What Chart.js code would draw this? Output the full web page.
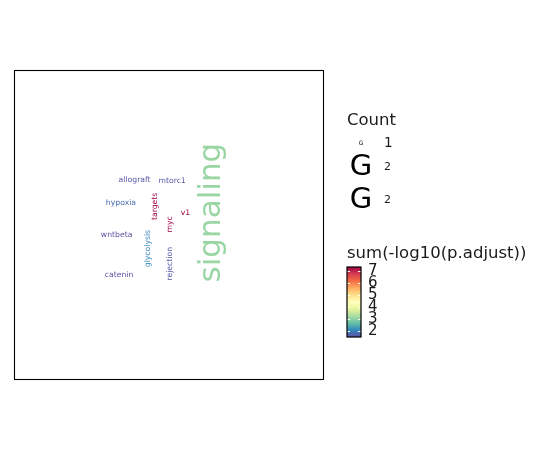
<!DOCTYPE html>
<html>
<head>
<meta charset="utf-8">
<script src="https://cdn.jsdelivr.net/npm/chart.js@4"></script>
<style>
  html, body { margin: 0; padding: 0; background: #ffffff; }
  #wrap { width: 550px; height: 450px; }
</style>
</head>
<body>
<div id="wrap"><canvas id="cloud" width="550" height="450"></canvas></div>
<script>
/* ── Data ──────────────────────────────────────────────────── */
const words  = ['allograft', 'mtorc1', 'hypoxia', 'wntbeta', 'catenin', 'targets', 'myc', 'v1', 'glycolysis', 'rejection', 'signaling'];
const counts = [1, 1, 1, 1, 1, 1, 1, 1, 1, 1, 2];
const scores = [1.6, 1.6, 1.8, 1.5, 1.5, 7.33, 7.33, 7.33, 2.05, 1.6, 3.1];
const angles = [0, 0, 0, 0, 0, 90, 90, 0, 90, 90, 90];
const posX   = [38.9, 51.0, 34.5, 33.1, 33.9, 45.6, 50.2, 55.3, 43.1, 50.2, 63.8];
const posY   = [64.4, 64.2, 57.0, 46.9, 34.0, 56.0, 50.2, 54.0, 42.4, 37.5, 54.0];

const countBreaks  = [1, 2, 2];
const countLabels  = ['1', '2', '2'];
const colourTicks  = [2, 3, 4, 5, 6, 7];

/* ── Theme ─────────────────────────────────────────────────── */
const FONT = "'DejaVu Sans', sans-serif";
const spectral = ['#5E4FA2', '#3288BD', '#66C2A5', '#ABDDA4', '#E6F598', '#FFFFBF',
                  '#FEE08B', '#FDAE61', '#F46D43', '#D53E4F', '#9E0142'];
const cMin = Math.min(...scores);
const cMax = Math.max(...scores);

function hexToRgb(h) {
  const n = parseInt(h.slice(1), 16);
  return [(n >> 16) & 255, (n >> 8) & 255, n & 255];
}

function colourFor(v) {
  const t = Math.max(0, Math.min(1, (v - cMin) / (cMax - cMin)));
  const pos = t * (spectral.length - 1);
  const i = Math.min(spectral.length - 2, Math.floor(pos));
  const f = pos - i;
  const a = hexToRgb(spectral[i]), b = hexToRgb(spectral[i + 1]);
  const c = a.map((x, k) => Math.round(x + (b[k] - x) * f));
  return `rgb(${c[0]}, ${c[1]}, ${c[2]})`;
}

function sizeFor(count) {
  return count >= 2 ? 31 : 7.7;
}

/* ── Plugin: words, panel border, legends ──────────────────── */
const cloudPlugin = {
  id: 'cloud',
  afterDatasetsDraw(chart) {
    const { ctx, chartArea, scales } = chart;
    ctx.save();
    ctx.textAlign = 'center';
    ctx.textBaseline = 'middle';
    words.forEach((w, i) => {
      const px = scales.x.getPixelForValue(posX[i]);
      const py = scales.y.getPixelForValue(posY[i]);
      ctx.save();
      ctx.translate(px, py);
      ctx.rotate(-angles[i] * Math.PI / 180);
      ctx.font = `${sizeFor(counts[i])}px ${FONT}`;
      ctx.fillStyle = colourFor(scores[i]);
      ctx.fillText(w, 0, 0);
      ctx.restore();
    });

    // panel border
    ctx.strokeStyle = '#000000';
    ctx.lineWidth = 1.1;
    ctx.strokeRect(chartArea.left + 0.5, chartArea.top + 0.5,
                   chartArea.right - chartArea.left - 1, chartArea.bottom - chartArea.top - 1);
    ctx.restore();
  },

  afterDraw(chart) {
    const { ctx } = chart;
    ctx.save();
    ctx.fillStyle = '#1a1a1a';
    ctx.textAlign = 'left';
    ctx.textBaseline = 'middle';

    // Count legend
    ctx.font = `16.5px ${FONT}`;
    ctx.fillText('Count', 347, 121);
    const keyY = [143, 167, 200];
    const glyph = [6, 29, 29];
    const labelSize = [13.5, 11, 11];
    countBreaks.forEach((b, i) => {
      ctx.textAlign = 'center';
      ctx.font = `${glyph[i]}px ${FONT}`;
      ctx.fillStyle = '#000000';
      ctx.fillText('G', 361, keyY[i]);
      ctx.textAlign = 'left';
      ctx.font = `${labelSize[i]}px ${FONT}`;
      ctx.fillStyle = '#1a1a1a';
      ctx.fillText(countLabels[i], 384, keyY[i]);
    });

    // Colour legend
    ctx.font = `16.5px ${FONT}`;
    ctx.fillText('sum(-log10(p.adjust))', 347, 254);
    const bx = 347, bw = 14, top = 267, bottom = 337;
    const grad = ctx.createLinearGradient(0, bottom, 0, top);
    spectral.forEach((c, i) => grad.addColorStop(i / (spectral.length - 1), c));
    ctx.fillStyle = grad;
    ctx.fillRect(bx, top, bw, bottom - top);

    const yOf = (v) => bottom - (v - cMin) / (cMax - cMin) * (bottom - top);
    ctx.strokeStyle = '#ffffff';
    ctx.lineWidth = 1;
    ctx.font = `15px ${FONT}`;
    ctx.fillStyle = '#1a1a1a';
    colourTicks.forEach((t) => {
      const y = Math.round(yOf(t)) + 0.5;
      ctx.beginPath();
      ctx.moveTo(bx, y); ctx.lineTo(bx + 3, y);
      ctx.moveTo(bx + bw - 3, y); ctx.lineTo(bx + bw, y);
      ctx.stroke();
      ctx.fillText(String(t), 368, yOf(t));
    });
    ctx.strokeStyle = '#000000';
    ctx.lineWidth = 1.2;
    ctx.strokeRect(bx, top, bw, bottom - top);
    ctx.restore();
  },
};

/* ── Chart ─────────────────────────────────────────────────── */
new Chart(document.getElementById('cloud'), {
  type: 'scatter',
  data: {
    datasets: [{
      label: 'words',
      data: words.map((w, i) => ({ x: posX[i], y: posY[i] })),
      pointRadius: 0,
      pointHoverRadius: 0,
    }],
  },
  options: {
    responsive: false,
    animation: false,
    events: [],
    layout: { padding: { left: 14, top: 70, right: 226, bottom: 70 } },
    plugins: { legend: { display: false }, tooltip: { enabled: false } },
    scales: {
      x: { type: 'linear', min: 0, max: 100, display: false },
      y: { type: 'linear', min: 0, max: 100, display: false },
    },
  },
  plugins: [cloudPlugin],
});
</script>
</body>
</html>
